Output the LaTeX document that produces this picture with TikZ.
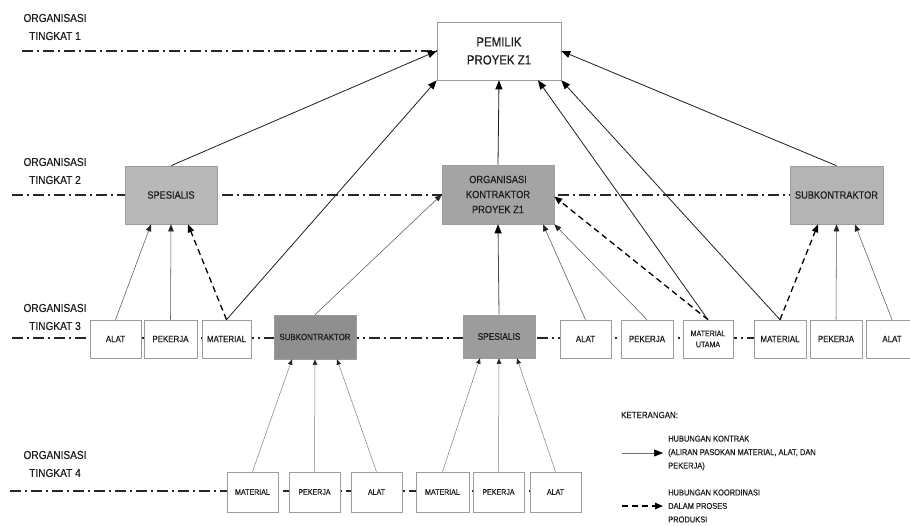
\documentclass[tikz,border=0pt]{standalone}
\usepackage{fontspec}
\setmainfont{Liberation Sans}[FakeStretch=0.88, FakeBold=0.5]
\usetikzlibrary{arrows.meta}

\definecolor{boxline}{HTML}{9C9C9C}
\definecolor{txt}{HTML}{1E1E1E}
\definecolor{fillA}{HTML}{B8B8B8}
\definecolor{fillB}{HTML}{A4A4A4}
\definecolor{fillC}{HTML}{B4B4B4}
\definecolor{fillD}{HTML}{8F8F8F}
\definecolor{fillE}{HTML}{9C9C9C}
\definecolor{levelcol}{HTML}{262626}

\begin{document}
\begin{tikzpicture}[x=1pt,y=-1pt,
  box/.style={draw=boxline, line width=0.6pt, fill=white, inner sep=0pt,
    text=txt, align=center},
  lvbox/.style={box, minimum width=#1, minimum height=38pt,
    font=\fontsize{9}{11}\selectfont},
  lwbox/.style={box, minimum width=#1, minimum height=40pt,
    font=\fontsize{8}{10}\selectfont},
  levellabel/.style={text=txt, align=center, inner sep=0pt,
    font=\fontsize{11.5}{18}\selectfont},
  levelline/.style={draw=levelcol, line width=1.2pt,
    dash pattern=on 11pt off 4pt on 2pt off 4pt},
  contract/.style={draw=black!88, line width=0.8pt,
    -{Triangle[length=9pt,width=7pt,color=black]}},
  supply/.style={draw=black!65, line width=0.55pt,
    -{Triangle[length=7pt,width=5.5pt,color=black!85]}},
  coord/.style={draw=black, line width=1.3pt, dash pattern=on 6pt off 4pt,
    -{Triangle[length=8pt,width=6.5pt]}},
  feed/.style={draw=black!50, line width=0.5pt,
    -{Triangle[length=5.5pt,width=4.5pt,color=black!85]}},
  legendtext/.style={text=txt, align=left, inner sep=0pt, anchor=west,
    font=\fontsize{8.5}{13.5}\selectfont}
]
\useasboundingbox (0,0) rectangle (910,525);

% organisation levels: dash-dot reference lines
\coordinate (l1a) at (22,51);
\coordinate (l2a) at (12,195);
\coordinate (l2b) at (790,195);
\coordinate (l3a) at (12,338);
\coordinate (l3b) at (910,338);
\coordinate (l4a) at (10,491);
\coordinate (l4b) at (560,491);
\draw[levelline] (l2a) -- (l2b);
\draw[levelline] (l3a) -- (l3b);
\draw[levelline] (l4a) -- (l4b);

\node[levellabel] (lab1) at (55,27) {ORGANISASI\\TINGKAT 1};
\node[levellabel] (lab2) at (55,171) {ORGANISASI\\TINGKAT 2};
\node[levellabel] (lab3) at (55,317) {ORGANISASI\\TINGKAT 3};
\node[levellabel] (lab4) at (55,464) {ORGANISASI\\TINGKAT 4};

% level 1
\node[box, minimum width=124pt, minimum height=58pt,
  font=\fontsize{13}{18}\selectfont] (pem) at (499,51) {PEMILIK\\PROYEK Z1};
\draw[levelline] (l1a) -- (pem.west);

% level 2
\node[box, fill=fillA, minimum width=92pt, minimum height=58pt,
  font=\fontsize{10.5}{14}\selectfont] (spes2) at (171,195) {SPESIALIS};
\node[box, fill=fillB, minimum width=112pt, minimum height=59pt,
  font=\fontsize{10.5}{15}\selectfont] (org) at (498,194.5)
  {ORGANISASI\\KONTRAKTOR\\PROYEK Z1};
\node[box, fill=fillC, minimum width=93pt, minimum height=58pt,
  font=\fontsize{10.5}{14}\selectfont] (subk2) at (836.5,195) {SUBKONTRAKTOR};

% level 3
\node[lvbox=51pt] (alat3a) at (115.5,339) {ALAT};
\node[lvbox=53pt] (pek3a) at (170.5,339) {PEKERJA};
\node[lvbox=49pt] (mat3a) at (226.5,339) {MATERIAL};
\node[box, fill=fillD, minimum width=82pt, minimum height=44pt,
  font=\fontsize{9}{11}\selectfont] (subk3) at (315,337) {SUBKONTRAKTOR};
\node[box, fill=fillE, minimum width=72pt, minimum height=43pt,
  font=\fontsize{9.5}{11}\selectfont] (spes3) at (499,336.5) {SPESIALIS};
\node[lvbox=51pt] (alat3b) at (585.5,339) {ALAT};
\node[lvbox=52pt] (pek3b) at (647,339) {PEKERJA};
\node[lvbox=50pt, font=\fontsize{8}{11}\selectfont] (matu) at (708,339)
  {MATERIAL\\UTAMA};
\node[lvbox=52pt] (mat3b) at (780,339) {MATERIAL};
\node[lvbox=52pt] (pek3c) at (836,339) {PEKERJA};
\node[lvbox=51pt] (alat3c) at (892,339) {ALAT};

% level 4
\node[lwbox=51pt] (mat4a) at (252.5,492) {MATERIAL};
\node[lwbox=51pt] (pek4a) at (314.5,492) {PEKERJA};
\node[lwbox=51pt] (alat4a) at (376.5,492) {ALAT};
\node[lwbox=53pt] (mat4b) at (442.5,492) {MATERIAL};
\node[lwbox=51pt] (pek4b) at (498.5,492) {PEKERJA};
\node[lwbox=51pt] (alat4b) at (555.5,492) {ALAT};

% contract relations towards the project owner
\draw[contract] (spes2.north) -- (pem.west);
\draw[contract] (mat3a.north) -- (pem.south west);
\draw[contract] (org.north) -- (pem.south);
\draw[contract] (matu.north) -- ([xshift=39pt]pem.south);
\draw[contract] (mat3b.north) -- (pem.south east);
\draw[contract] (subk2.north) -- (pem.east);

% level 3 towards level 2
\draw[supply] (alat3a.north) -- ([xshift=-20pt]spes2.south);
\draw[supply] (pek3a.north) -- (spes2.south);
\draw[coord] (mat3a.north) -- ([xshift=17pt]spes2.south);
\draw[supply] (subk3.north) -- (org.west);
\draw[contract, draw=black!70] (spes3.north) -- (org.south);
\draw[supply] (alat3b.north) -- ([xshift=45pt]org.south);
\draw[supply] (pek3b.north) -- (org.south east);
\draw[coord] (matu.north) -- ([yshift=-2pt]org.east);
\draw[coord] (mat3b.north) -- ([xshift=-18.5pt]subk2.south);
\draw[supply] (pek3c.north) -- (subk2.south);
\draw[supply] (alat3c.north) -- ([xshift=18.5pt]subk2.south);

% level 4 towards level 3
\draw[feed] (mat4a.north) -- ([xshift=-23pt]subk3.south);
\draw[feed] (pek4a.north) -- (subk3.south);
\draw[feed] (alat4a.north) -- ([xshift=22pt]subk3.south);
\draw[feed] (mat4b.north) -- ([xshift=-19pt]spes3.south);
\draw[feed] (pek4b.north) -- (spes3.south);
\draw[feed] (alat4b.north) -- ([xshift=18pt]spes3.south);

% legend
\node[legendtext, font=\fontsize{9}{11}\selectfont] (ket) at (621,415) {KETERANGAN:};
\coordinate (k1a) at (622,453);
\coordinate (k1b) at (663,453);
\coordinate (k2a) at (622,506);
\coordinate (k2b) at (663,506);
\draw[contract, draw=black!55, line width=0.6pt] (k1a) -- (k1b);
\draw[coord] (k2a) -- (k2b);
\node[legendtext] (kt1) at (668,453)
  {HUBUNGAN KONTRAK\\(ALIRAN PASOKAN MATERIAL, ALAT, DAN\\PEKERJA)};
\node[legendtext] (kt2) at (668,506)
  {HUBUNGAN KOORDINASI\\DALAM PROSES\\PRODUKSI};
\end{tikzpicture}
\end{document}
